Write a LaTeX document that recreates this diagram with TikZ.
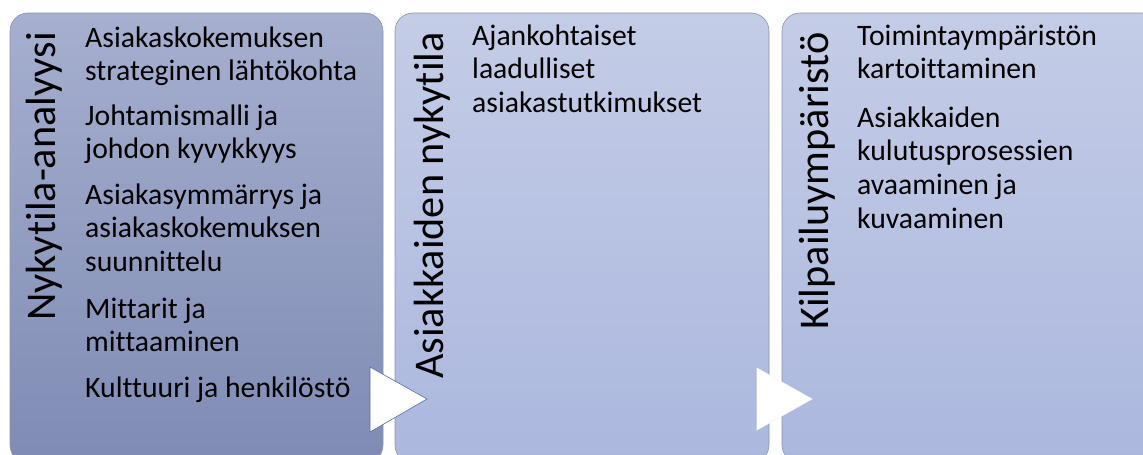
\documentclass[tikz,border=0pt]{standalone}
\usepackage{fontspec}
\setmainfont{Carlito}[Ligatures=NoCommon]
\usetikzlibrary{calc}

\definecolor{firstTop}{RGB}{166,175,207}
\definecolor{firstBottom}{RGB}{127,139,180}
\definecolor{restTop}{RGB}{196,204,230}
\definecolor{restBottom}{RGB}{171,183,222}
\definecolor{panelLine}{RGB}{140,148,170}
\definecolor{arrowLine}{RGB}{79,110,165}

\begin{document}
\begin{tikzpicture}[x=1pt,y=-1pt,
     panel/.style={draw=panelLine, line width=0.6pt, rounded corners=18pt,
          minimum width=#1, minimum height=450pt, inner sep=0pt},
     title/.style={rotate=90, anchor=base east, inner sep=0pt,
          font=\fontsize{42.3}{42.3}\selectfont},
     item/.style={anchor=base west, inner sep=0pt, align=flush left, text width=330pt,
          font=\fontsize{29.7}{33.7}\selectfont}]
     \clip (0,0) rectangle (1143,455);

     % panels
     \node[panel=373pt, top color=firstTop, bottom color=firstBottom] (nykytila) at (196.5,238) {};
     \node[panel=374pt, top color=restTop, bottom color=restBottom] (asiakkaat) at (582,238) {};
     \node[panel=378pt, top color=restTop, bottom color=restBottom] (kilpailu) at (971,238) {};

     % titles
     \node[title] (tNykytila) at (55,32) {Nykytila-analyysi};
     \node[title] (tAsiakkaat) at (443,32) {Asiakkaiden nykytila};
     \node[title] (tKilpailu) at (828,32) {Kilpailuympäristö};

     % items
     \node[item] (strategia) at (85,47) {Asiakaskokemuksen\\strateginen lähtökohta};
     \node[item] (johtaminen) at (85,125) {Johtamismalli ja\\johdon kyvykkyys};
     \node[item] (suunnittelu) at (85,204) {Asiakasymmärrys ja\\asiakaskokemuksen\\suunnittelu};
     \node[item] (mittarit) at (85,318) {Mittarit ja\\mittaaminen};
     \node[item] (kulttuuri) at (85,397) {Kulttuuri ja henkilöstö};

     \node[item] (tutkimukset) at (472,45) {Ajankohtaiset\\laadulliset\\asiakastutkimukset};

     \node[item] (kartoitus) at (857,45) {Toimintaympäristön\\kartoittaminen};
     \node[item] (prosessit) at (857,127) {Asiakkaiden\\kulutusprosessien\\avaaminen ja\\kuvaaminen};

     % arrows between panels
     \coordinate (A1) at (370,367);
     \coordinate (B1) at (370,432);
     \coordinate (C1) at (427,399);
     \coordinate (A2) at (757,368);
     \coordinate (B2) at (757,430);
     \coordinate (C2) at (812,399);
     \filldraw[fill=white, draw=arrowLine, line width=0.6pt] (A1) -- (C1) -- (B1) -- cycle;
     \filldraw[fill=white, draw=white!85!restTop, line width=0.6pt] (A2) -- (C2) -- (B2) -- cycle;

  \end{tikzpicture}
\end{document}
